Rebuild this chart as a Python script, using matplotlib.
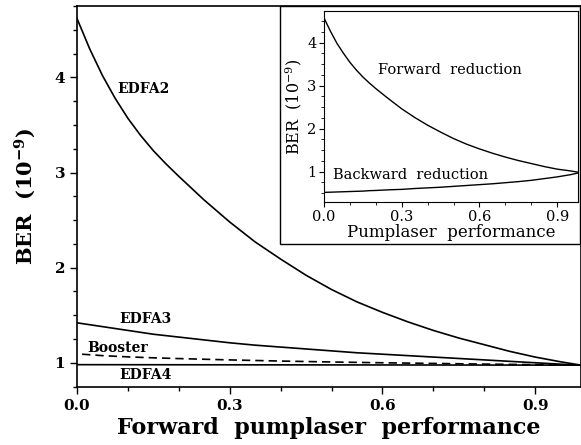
import numpy as np
import matplotlib
matplotlib.use("Agg")
import matplotlib.pyplot as plt
from matplotlib.patches import Rectangle
from matplotlib.ticker import MultipleLocator

plt.rcParams.update({'font.family': 'DejaVu Serif', 'mathtext.fontset': 'dejavuserif'})

# main panel: BER vs forward pumplaser performance
x = [0.0, 0.025, 0.05, 0.075, 0.1, 0.125, 0.15, 0.175, 0.2, 0.25, 0.3, 0.35, 0.4,
     0.45, 0.5, 0.55, 0.6, 0.65, 0.7, 0.75, 0.8, 0.85, 0.9, 0.95, 0.99]
edfa2 = [4.62, 4.30, 4.02, 3.78, 3.57, 3.39, 3.23, 3.09, 2.96, 2.71, 2.48, 2.27, 2.09,
         1.92, 1.77, 1.64, 1.53, 1.43, 1.34, 1.26, 1.19, 1.12, 1.06, 1.01, 0.975]
edfa3 = [1.42, 1.40, 1.38, 1.36, 1.34, 1.32, 1.30, 1.285, 1.27, 1.24, 1.21, 1.185, 1.165,
         1.145, 1.125, 1.105, 1.09, 1.075, 1.06, 1.045, 1.03, 1.015, 1.0, 0.985, 0.975]
x_boost = [0.01, 0.05, 0.1, 0.15, 0.2, 0.3, 0.4, 0.5, 0.6, 0.7, 0.8, 0.9, 0.99]
booster = [1.09, 1.075, 1.062, 1.052, 1.044, 1.03, 1.018, 1.008, 1.0, 0.993, 0.986, 0.98, 0.975]
x_edfa4 = [0.0, 0.99]
edfa4 = [0.98, 0.975]

# inset: forward vs backward reduction
xi = [0.0, 0.025, 0.05, 0.075, 0.1, 0.125, 0.15, 0.175, 0.2, 0.25, 0.3, 0.35, 0.4,
      0.45, 0.5, 0.55, 0.6, 0.65, 0.7, 0.75, 0.8, 0.85, 0.9, 0.95, 0.98]
forward = [4.57, 4.26, 3.98, 3.75, 3.54, 3.36, 3.20, 3.06, 2.93, 2.69, 2.46, 2.26, 2.08,
           1.92, 1.77, 1.64, 1.53, 1.43, 1.34, 1.26, 1.19, 1.12, 1.06, 1.02, 0.99]
backward = [0.52, 0.525, 0.53, 0.535, 0.54, 0.545, 0.55, 0.56, 0.565, 0.58, 0.59, 0.61, 0.625,
            0.64, 0.66, 0.68, 0.70, 0.72, 0.745, 0.77, 0.80, 0.84, 0.88, 0.93, 0.97]

fig = plt.figure(figsize=(5.81, 4.45), dpi=100)
ax = fig.add_axes([0.1325, 0.1303, 0.8675, 0.856])

ax.plot(x, edfa2, color='black', lw=1.2)
ax.plot(x, edfa3, color='black', lw=1.2)
ax.plot(x_boost, booster, color='black', lw=1.2, dashes=(5, 3))
ax.plot(x_edfa4, edfa4, color='black', lw=1.2)

ax.set_xlim(0, 0.99)
ax.set_ylim(0.745, 4.75)
ax.xaxis.set_major_locator(MultipleLocator(0.3))
ax.xaxis.set_minor_locator(MultipleLocator(0.1))
ax.yaxis.set_major_locator(MultipleLocator(1))
ax.yaxis.set_minor_locator(MultipleLocator(0.25))
ax.tick_params(which='both', direction='out', width=1.0, labelsize=11)
ax.tick_params(which='major', length=5)
ax.tick_params(which='minor', length=3)
ax.xaxis.set_major_formatter(plt.FormatStrFormatter('%.1f'))
ax.yaxis.set_major_formatter(plt.FormatStrFormatter('%d'))
for lab in ax.get_xticklabels() + ax.get_yticklabels():
    lab.set_fontweight('bold')
for s in ax.spines.values():
    s.set_linewidth(1.2)

ax.set_xlabel('Forward  pumplaser  performance', fontsize=16, fontweight='bold', labelpad=3)
ax.set_ylabel(r'BER  (10$^{\mathbf{-9}}$)', fontsize=15, fontweight='bold', labelpad=12)

ax.text(0.08, 3.88, 'EDFA2', fontsize=10, fontweight='bold', va='center')
ax.text(0.083, 1.46, 'EDFA3', fontsize=10, fontweight='bold', va='center')
ax.text(0.02, 1.16, 'Booster', fontsize=10, fontweight='bold', va='center')
ax.text(0.083, 0.87, 'EDFA4', fontsize=10, fontweight='bold', va='center')

# box around the inset
fig.patches.append(Rectangle((0.482, 0.4517), 0.516, 0.535, transform=fig.transFigure,
                             facecolor='white', edgecolor='black', lw=1.0, zorder=2))

ins = fig.add_axes([0.5577, 0.5454, 0.437, 0.4306], zorder=3)
ins.plot(xi, forward, color='black', lw=1.0)
ins.plot(xi, backward, color='black', lw=1.0)
ins.set_xlim(0, 0.98)
ins.set_ylim(0.29, 4.74)
ins.xaxis.set_major_locator(MultipleLocator(0.3))
ins.xaxis.set_minor_locator(MultipleLocator(0.1))
ins.yaxis.set_major_locator(MultipleLocator(1))
ins.yaxis.set_minor_locator(MultipleLocator(0.25))
ins.xaxis.set_major_formatter(plt.FormatStrFormatter('%.1f'))
ins.yaxis.set_major_formatter(plt.FormatStrFormatter('%d'))
ins.tick_params(which='both', direction='out', labelsize=10.5, pad=2)
ins.tick_params(which='major', length=3.5)
ins.tick_params(which='minor', length=2)
ins.set_xlabel('Pumplaser  performance', fontsize=12, labelpad=0)
ins.set_ylabel(r'BER  (10$^{-9}$)', fontsize=11.5, labelpad=2)
ins.text(0.21, 3.36, 'Forward  reduction', fontsize=10.5, va='center')
ins.text(0.035, 0.92, 'Backward  reduction', fontsize=10.5, va='center')

fig.savefig('out.png', dpi=100)
